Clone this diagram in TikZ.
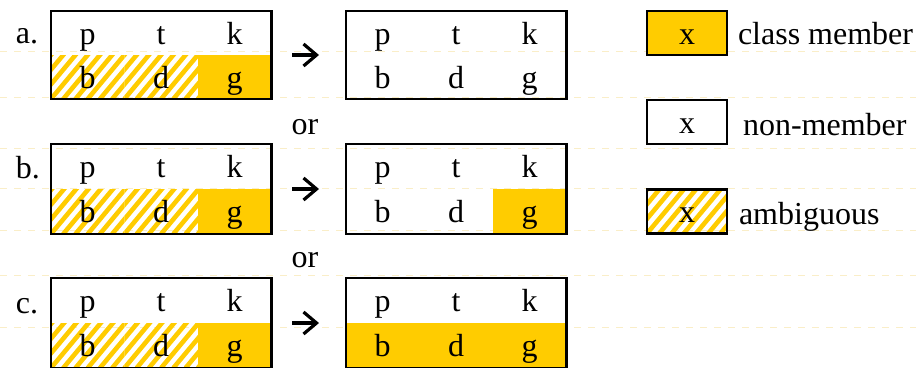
\documentclass[tikz,border=0pt]{standalone}
\usepackage{fontspec}
\setmainfont{Liberation Serif}
\usetikzlibrary{arrows.meta}

\definecolor{gold}{RGB}{255,204,0}
\definecolor{faintgrid}{RGB}{250,238,200}

\tikzset{
  txt/.style={font=\fontsize{32}{38}\selectfont, inner sep=0pt, outer sep=0pt},
  cell/.style={txt, minimum width=73.4pt, text height=26pt, text depth=4pt},
  plain/.style={},
  member/.style={fill=gold},
  hatch/.style={path picture={
      \foreach \k in {-5,...,8}
        \draw[gold, line width=4.6pt]
          ([xshift=\k*12.233pt]path picture bounding box.south west) -- ++(50pt,60pt);
    }},
  frame/.style={draw=black, line width=2.6pt},
  legendbox/.style={txt, frame, minimum width=80pt, minimum height=44pt,
    text height=26pt, text depth=4pt},
  arrowglyph/.style={line width=3.2pt, -{Straight Barb[length=13pt, width=22pt, line width=3.2pt]}},
  gridline/.style={draw=faintgrid, line width=0.8pt, dash pattern=on 7pt off 7pt},
}

% A 2x3 table of stops: #1 name, #2 left, #3 top, #4 row height,
% #5-#7 styles of the voiced cells b, d, g
\newcommand{\stoptable}[7]{%
  \node[cell, minimum height=#4pt, anchor=north west] (#1p) at (#2,#3) {p};
  \node[cell, minimum height=#4pt, anchor=west] (#1t) at (#1p.east) {t};
  \node[cell, minimum height=#4pt, anchor=west] (#1k) at (#1t.east) {k};
  \node[cell, minimum height=#4pt, anchor=north, #5] (#1b) at (#1p.south) {b};
  \node[cell, minimum height=#4pt, anchor=north, #6] (#1d) at (#1t.south) {d};
  \node[cell, minimum height=#4pt, anchor=north, #7] (#1g) at (#1k.south) {g};
  \draw[frame] (#1p.north west) rectangle (#1g.south east);
}

\begin{document}
\begin{tikzpicture}[x=1pt, y=-1pt]
  \useasboundingbox (0,0) rectangle (916,367);

  % faint table guides in the background
  \foreach \gy in {51,97,148,188,230,275,327}
    \draw[gridline] (0,\gy) -- (916,\gy);

  % row a
  \node[txt, anchor=base west] (la) at (16,43) {a.};
  \stoptable{aL}{51}{11}{44}{hatch}{hatch}{member}
  \stoptable{aR}{346}{11}{44}{plain}{plain}{plain}
  \draw[arrowglyph] ([xshift=21pt]aLk.south east) -- ([xshift=-27pt]aRp.south west);

  \node[txt, anchor=base] (or1) at (305,134) {or};

  % row b
  \node[txt, anchor=base west] (lb) at (16,178) {b.};
  \stoptable{bL}{51}{144}{45}{hatch}{hatch}{member}
  \stoptable{bR}{346}{144}{45}{plain}{plain}{member}
  \draw[arrowglyph] ([xshift=21pt]bLk.south east) -- ([xshift=-27pt]bRp.south west);

  \node[txt, anchor=base] (or2) at (305,267) {or};

  % row c
  \node[txt, anchor=base west] (lc) at (16,313) {c.};
  \stoptable{cL}{51}{278}{45}{hatch}{hatch}{member}
  \stoptable{cR}{346}{278}{45}{member}{member}{member}
  \draw[arrowglyph] ([xshift=21pt]cLk.south east) -- ([xshift=-27pt]cRp.south west);

  % legend
  \node[legendbox, fill=gold] (lgC) at (687,33) {x};
  \node[txt, anchor=base west] (tC) at (738,44) {class member};
  \node[legendbox] (lgN) at (687,122) {x};
  \node[txt, anchor=base west] (tN) at (743,135) {non-member};
  \node[legendbox, hatch] (lgA) at (687,211.5) {x};
  \node[txt, anchor=base west] (tA) at (739,224) {ambiguous};
\end{tikzpicture}
\end{document}
